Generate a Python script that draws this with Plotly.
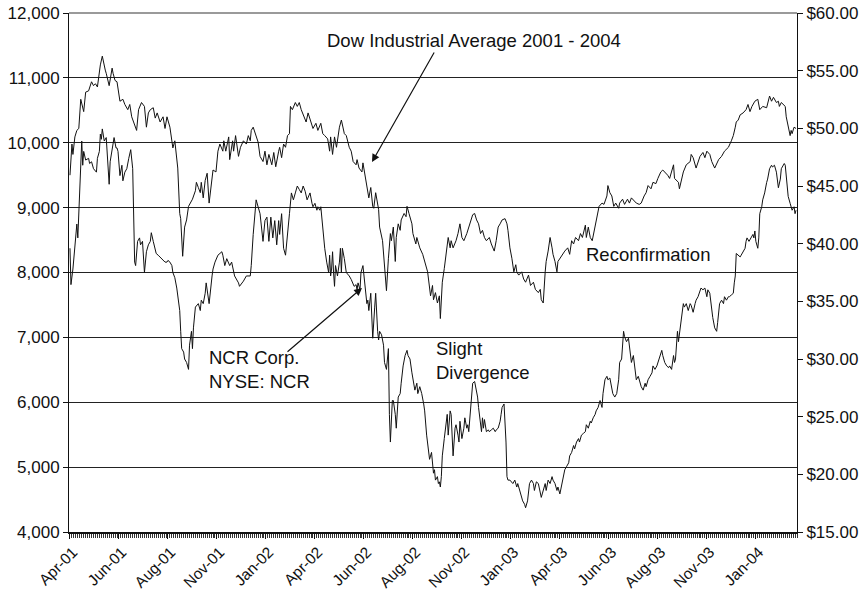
import plotly.graph_objects as go

# Trading-day index (0 = first trading day of April 2001) and x-axis labels
tick_days = [0, 50, 100, 150, 200, 250, 300, 350, 400, 450, 500, 550, 600, 650, 700]
tick_labels = ["Apr-01", "Jun-01", "Aug-01", "Nov-01", "Jan-02", "Apr-02", "Jun-02", "Aug-02",
               "Nov-02", "Jan-03", "Apr-03", "Jun-03", "Aug-03", "Nov-03", "Jan-04"]

# Dow Jones Industrial Average (left axis)
dow_day = [
    0, 2, 3, 5, 7, 9, 11, 14, 16, 19, 22, 24, 26, 28, 31, 33, 36, 37, 40, 43, 44, 46, 48, 51, 54,
    56, 59, 61, 63, 66, 68, 70, 73, 76, 78, 80, 82, 85, 87, 89, 92, 95, 97, 99, 102, 105, 107, 110, 112, 113, 115,
    117, 119, 121, 123, 125, 128, 129, 131, 133, 134, 136, 138, 140, 142, 145, 146, 149, 151, 153, 156,
    157, 159, 162, 163, 166, 167, 169, 172, 174, 177, 180, 182, 184, 185, 187, 190, 192, 194, 197, 199,
    201, 203, 206, 208, 210, 213, 214, 216, 218, 220, 222, 224, 225, 227, 230, 232, 234, 236, 239, 241, 243,
    247, 248, 251, 253, 256, 258, 260, 263, 265, 266, 268, 270, 272, 275, 277, 280, 282, 285, 287, 289,
    292, 293, 295, 298, 299, 301, 303, 305, 307, 309, 310, 312, 315, 316, 319, 321, 323, 325, 327, 328,
    330, 332, 333, 335, 337, 338, 341, 343, 344, 346, 349, 350, 353, 354, 357, 360, 362, 365,
    368, 370, 371, 373, 375, 377, 378, 380, 382, 384, 386, 388, 389, 391, 394, 396, 398, 400, 402, 405,
    407, 410, 411, 413, 415, 417, 419, 421, 423, 425, 428, 430, 433, 435, 437, 439, 441, 444, 446, 447,
    449, 451, 453, 455, 456, 458, 461, 463, 465, 468, 470, 473, 475, 478,
    480, 481, 483, 485, 486, 488, 490, 492, 493, 495, 497, 498, 500, 503, 505, 508, 510, 512, 514, 516,
    519, 521, 523, 526, 527, 529, 531, 533, 536, 538, 540, 543, 545, 548, 549, 551, 553, 555, 557, 560,
    561, 564, 566, 569, 571, 573, 576, 578, 581, 583, 586, 588, 590, 593, 595, 598, 600, 603, 605, 607, 610, 612,
    616, 617, 621, 622, 626, 629, 633, 634, 636, 639, 641, 643, 646, 648, 650, 653, 655, 658, 662, 665,
    668, 672, 675, 677, 679, 680, 682, 684, 687, 690, 692, 694, 696, 699, 702, 704, 707, 711, 714, 716,
    718, 719, 721, 723, 724, 726, 730, 731, 733, 735, 736, 737, 739, 741]
dow_close = [
    9500, 9980, 9820, 10090, 10190, 10220, 10670, 10480, 10780, 10800, 10940, 10880, 10910, 10860, 11200,
    11335, 11120, 11070, 10880, 11150, 11070, 10960, 10940, 10640, 10670, 10590, 10510, 10590, 10400, 10270,
    10190, 10510, 10620, 10560, 10240, 10460, 10510, 10540, 10380, 10460, 10320, 10400, 10220, 10400, 10240,
    9920, 10030, 9610, 8910, 8830, 8250,
    8700, 8810, 9020, 9070, 9130, 9260, 9390, 9310, 9230, 9390, 9150, 9420, 9530, 9070, 9450,
    9580, 9550, 9870, 9980, 9870, 10030, 9870, 10090, 9740, 10030, 9870, 10110, 9790, 9930, 10030,
    9980, 10110, 10030, 10190, 10240, 10090, 10010, 9790, 9710, 9870, 9660, 9820, 9660, 9850, 9630,
    9870, 9930, 9770, 9980, 9930, 10110, 10140, 10560, 10510, 10620, 10560, 10620, 10510, 10400, 10320, 10460,
    10270, 10220, 10300, 10190, 10300, 10140, 10110, 10060, 9870, 10090, 9820, 10090, 9930, 10240, 10350,
    10140, 10110, 9930, 9870, 9710, 9660, 9740, 9610, 9550, 9690, 9500, 9290, 9150, 9310, 9020,
    8990, 9230, 8970, 8700, 8490, 8120, 7720, 8220, 8600, 8490, 8700, 8170, 8540, 8750, 8650,
    8810, 8910, 8860, 9020, 8910, 8750, 8600, 8440, 8540, 8380, 8280, 8170, 8010,
    7640, 7800, 7580, 7690, 7530, 7640, 7290, 7850, 8060, 8280, 8540, 8380, 8490, 8380, 8490,
    8600, 8750, 8540, 8490, 8600, 8700, 8830, 8890, 8910, 8810, 8750, 8600, 8650, 8540, 8490,
    8540, 8440, 8330, 8490, 8700, 8750, 8810, 8830, 8750, 8650, 8380, 8220, 8010, 8120, 8010,
    7960, 8010, 7900, 7850, 7960, 7800, 7850, 7740, 7690,
    7740, 7580, 7530, 8010, 8170, 8330, 8540, 8380, 8280, 8170, 8010, 8170, 8220, 8280, 8330,
    8380, 8280, 8490, 8440, 8540, 8490, 8600, 8540, 8730, 8540, 8700, 8540, 8490, 8700, 8860,
    9020, 9070, 9050, 9180, 9340, 9230, 9180, 9020, 9070, 8990, 9070, 9130, 9050, 9130, 9070,
    9150, 9100, 9070, 9050, 9070, 9180, 9230, 9340, 9290, 9390, 9370, 9450, 9550, 9580, 9550, 9500, 9450,
    9660, 9450, 9390, 9290, 9550, 9660, 9710, 9820, 9770, 9610, 9710, 9790, 9850, 9770, 9870,
    9820, 9710, 9610, 9740, 9790, 9870, 9930, 10030, 10110, 10240, 10320, 10350, 10430, 10460, 10510,
    10590, 10480, 10560, 10640, 10670, 10510, 10560, 10540, 10720, 10640, 10700, 10670, 10620, 10640, 10560,
    10620, 10560, 10400, 10240, 10110, 10190, 10140, 10240, 10220]

# NCR Corp. share price (right axis)
ncr_day = [
    0, 1, 3, 4, 6, 7, 8, 10, 12, 13, 14, 16, 19, 20, 22, 24, 27, 28, 30, 31, 32, 33, 35, 37, 38,
    40, 41, 44, 45, 47, 48, 49, 51, 53, 54, 56, 58, 60, 61, 62, 64, 65, 66, 67, 69, 71, 72, 74, 76, 78,
    80, 82, 83, 85, 87, 88, 90, 92, 94, 95, 97, 99, 100, 102, 104, 105, 107, 109, 111, 112, 113, 114, 116, 117, 119,
    121, 122, 124, 125, 126, 128, 131, 133, 134, 136, 138, 139, 142, 145, 146, 148, 151, 155, 156, 158,
    160, 163, 165, 168, 172, 173, 177, 180, 184, 185, 187, 190, 192, 194, 197, 199, 201, 203, 205, 207,
    209, 211, 213, 214, 216, 218, 220, 222, 224, 226, 228, 230, 232, 234, 236, 238, 240, 242,
    245, 247, 248, 250, 252, 253, 255, 256, 257, 258, 259, 260, 262, 264, 265, 266, 267, 268, 269, 270,
    271, 273, 275, 276, 277, 278, 280, 282, 285, 287, 290, 292, 293, 294, 296, 297, 299, 301, 303, 304,
    305, 307, 308, 309, 311, 312, 314, 315, 316, 318, 320, 321, 323, 325, 326, 327, 329, 330, 332, 333,
    335, 337, 338, 340, 342, 344, 345, 347, 349, 350, 352, 354, 355, 357, 359, 361, 362, 364, 366, 367,
    369, 370, 371, 372, 373, 375, 376, 377, 378, 379, 380, 382, 383, 384, 385, 386, 387, 388, 389, 391,
    393, 394, 396, 397, 398, 400, 402, 403, 405, 406, 407, 409, 410, 411, 413, 415, 416, 417, 419, 420,
    421, 422, 423, 425, 427, 428, 430, 432, 434, 435, 437, 439, 440, 441, 443, 444, 445, 446, 447, 449,
    451, 452, 454, 456, 457, 459, 461, 462, 464, 465, 467, 468, 469, 471, 473, 474, 476, 478,
    481, 482, 484, 485, 486, 488, 490, 492, 493, 495, 497, 498, 500, 502, 503, 505, 507, 509, 510, 512,
    514, 515, 517, 519, 520, 522, 524, 526, 527, 529, 531, 532, 534, 536, 537, 539, 541, 543, 544, 546,
    548, 549, 551, 553, 554, 556, 558, 560, 561, 563, 564, 565, 566, 568, 570, 571, 573, 575, 577, 578,
    580, 582, 583, 585, 587, 588, 590, 592, 594, 595, 597, 599, 600, 602, 604, 605, 607, 609, 611, 612,
    614, 616, 617, 618, 619, 620, 621, 622, 623, 624, 626, 627, 629, 631, 633, 634, 636, 638, 639, 641,
    643, 644, 646, 648, 650, 651, 653, 655, 656, 658, 660, 661, 662, 663, 665, 667, 668, 670, 672, 673,
    675, 677, 678, 679, 680, 682, 684, 685, 687, 689, 690, 691, 693, 695, 697, 698, 699, 700, 702, 703,
    704, 706, 707, 709, 710, 711, 712, 714, 716, 717, 719, 721, 723, 724, 725, 726, 728, 729, 730, 732,
    733, 735, 736, 737, 739, 740, 741]
ncr_close = [
    39.6, 36.45, 37.8, 39.0, 40.5, 41.7, 40.5, 44.4, 48.9, 46.8, 48.0, 47.25, 47.4, 46.95, 47.1, 46.5, 46.2, 47.4, 48.0, 49.5, 49.05, 49.95, 48.9, 49.2, 47.85,
    45.15, 47.1, 48.9, 49.2, 48.3, 48.3, 48.0, 45.9, 46.8, 45.45, 46.2, 46.5, 47.4, 47.7, 48.15, 46.5, 43.2, 38.4, 38.1, 40.2, 40.5, 39.9, 40.2, 37.5, 39.3,
    39.9, 40.2, 40.95, 40.2, 39.6, 39.15, 39.0, 38.85, 38.7, 38.55, 38.4, 38.4, 38.55, 38.4, 38.1, 37.5, 37.05, 36.15, 34.5, 34.2, 32.4, 30.9, 30.6, 30.0, 29.7,
    29.1, 31.2, 32.4, 30.9, 32.7, 34.5, 34.8, 34.2, 35.1, 34.8, 35.7, 36.6, 34.8, 37.2, 37.8, 38.4, 39.0, 39.3, 39.0, 38.1,
    38.7, 38.1, 38.4, 37.2, 36.6, 36.3, 36.75, 37.2, 37.2, 38.1, 40.8, 43.8, 43.2, 42.6, 40.2, 42.0, 42.3, 40.2, 42.3, 40.5,
    42.0, 39.9, 42.0, 40.8, 42.6, 39.6, 39.0, 41.1, 42.6, 44.4, 43.8, 44.4, 45.0, 44.7, 44.4, 45.0, 44.55, 43.8,
    44.4, 43.5, 43.2, 43.5, 42.9, 43.2, 42.9, 43.2, 42.3, 41.4, 40.2, 39.6, 38.4, 37.5, 39.0, 37.2, 37.8, 39.3, 37.5, 36.3,
    38.1, 37.2, 38.4, 39.6, 37.5, 39.6, 38.7, 37.5, 37.2, 36.9, 36.3, 36.45, 36.0, 36.6, 36.0, 37.5, 38.1, 36.6, 34.8, 35.1,
    34.2, 35.7, 33.6, 31.8, 34.5, 35.7, 32.4, 31.65, 32.4, 32.1, 31.2, 29.7, 29.1, 30.9, 25.2, 22.8, 26.4, 26.4, 25.2, 24.0,
    26.7, 27.0, 27.9, 29.4, 30.3, 30.75, 30.3, 30.0, 28.8, 28.2, 27.3, 27.9, 27.0, 27.6, 27.0, 26.1, 25.5, 23.4, 21.6, 21.3,
    21.9, 21.0, 20.1, 20.4, 19.5, 19.8, 19.2, 19.35, 18.9, 19.8, 21.6, 23.1, 24.0, 24.3, 25.2, 23.4, 24.6, 25.5, 25.2, 21.6,
    24.0, 24.3, 23.4, 22.8, 24.6, 23.1, 24.0, 24.9, 24.0, 24.3, 23.7, 26.1, 27.0, 27.9, 28.05, 27.3, 26.7, 25.8, 24.6, 23.7,
    24.9, 24.0, 24.75, 23.7, 23.85, 23.7, 23.85, 24.0, 23.7, 23.85, 24.0, 24.6, 25.2, 25.8, 26.1, 24.6, 22.8, 19.8, 19.5, 19.5,
    19.35, 19.2, 19.5, 18.9, 19.2, 18.6, 18.0, 17.7, 17.4, 17.1, 17.7, 18.3, 19.2, 19.5, 19.2, 18.6, 19.35, 19.2,
    18.0, 18.3, 18.9, 19.2, 18.6, 19.5, 19.2, 19.8, 19.5, 19.2, 18.6, 18.9, 18.3, 19.2, 19.8, 20.4, 20.7, 21.0, 21.6, 21.9,
    22.5, 22.2, 22.8, 23.1, 22.8, 23.4, 23.55, 23.7, 24.3, 24.0, 24.6, 24.45, 24.9, 25.2, 25.5, 25.8, 26.4, 25.8, 27.0, 28.2,
    28.5, 28.2, 28.35, 27.6, 27.0, 26.7, 27.0, 28.2, 29.7, 30.0, 31.2, 32.4, 31.95, 31.5, 31.8, 30.9, 29.7, 30.3, 29.1, 28.2,
    28.5, 27.9, 27.6, 27.3, 27.9, 27.6, 28.2, 28.5, 28.8, 29.4, 29.1, 29.4, 29.7, 30.3, 30.75, 30.3, 29.7, 29.4, 29.25, 29.4,
    29.1, 30.3, 29.7, 30.0, 31.2, 32.4, 31.5, 32.1, 33.0, 33.6, 34.8, 34.5, 34.8, 34.2, 34.8, 34.65, 34.05, 34.8, 35.1, 35.4,
    36.0, 36.15, 36.0, 36.15, 35.4, 36.0, 35.7, 34.2, 33.6, 32.7, 32.4, 33.15, 34.2, 34.8, 35.1, 34.8, 35.4, 35.1, 35.4, 35.4,
    35.55, 35.7, 36.6, 37.2, 39.15, 39.0, 38.85, 39.0, 39.3, 39.6, 40.2, 40.5, 40.2, 40.5, 40.8, 40.5, 41.1, 40.2, 39.6, 40.5,
    42.6, 43.2, 43.8, 44.4, 45.0, 45.3, 45.6, 46.5, 46.8, 46.65, 46.8, 46.2, 44.85, 45.3, 45.6, 46.5, 46.8, 46.95, 46.8, 45.3,
    44.1, 43.5, 43.2, 42.9, 43.2, 42.6, 42.9]

assert len(dow_day) == len(dow_close), (len(dow_day), len(dow_close))
assert len(ncr_day) == len(ncr_close), (len(ncr_day), len(ncr_close))

FONT = "Liberation Sans, Arial, sans-serif"
INK = "#111111"

fig = go.Figure()
fig.add_trace(go.Scatter(x=dow_day, y=dow_close, mode="lines", yaxis="y",
                         line=dict(color=INK, width=1), name="Dow"))
fig.add_trace(go.Scatter(x=ncr_day, y=ncr_close, mode="lines", yaxis="y2",
                         line=dict(color=INK, width=1), name="NCR"))

W, H = 865, 592
L, R, T, B = 69, 797, 13, 532


def px(xs):
    return (xs - L) / (R - L)


def py(ys):
    return (B - ys) / (B - T)


ann_font = dict(family=FONT, size=18.5, color=INK)
annotations = [
    dict(xref="paper", yref="paper", x=px(325), y=py(40), text="Dow Industrial Average 2001 - 2004",
         xanchor="left", yanchor="middle", showarrow=False, font=ann_font),
    dict(xref="paper", yref="paper", x=px(207), y=py(369), text="NCR Corp.<br>NYSE: NCR",
         xanchor="left", yanchor="middle", align="left", showarrow=False, font=ann_font),
    dict(xref="paper", yref="paper", x=px(434), y=py(360), text="Slight<br>Divergence",
         xanchor="left", yanchor="middle", align="left", showarrow=False, font=ann_font),
    dict(xref="paper", yref="paper", x=px(584), y=py(254), text="Reconfirmation",
         xanchor="left", yanchor="middle", showarrow=False, font=ann_font),
    dict(xref="paper", yref="paper", x=px(372), y=py(162), text="", showarrow=True,
         ax=63, ay=-111, arrowhead=2, arrowsize=1.3, arrowwidth=1.2, arrowcolor=INK, standoff=0),
    dict(xref="paper", yref="paper", x=px(362), y=py(288), text="", showarrow=True,
         ax=-76, ay=65, arrowhead=2, arrowsize=1.3, arrowwidth=1.2, arrowcolor=INK, standoff=0),
]

fig.update_layout(
    width=W, height=H,
    margin=dict(l=L, r=W - R, t=T, b=H - B, pad=0, autoexpand=False),
    paper_bgcolor="white", plot_bgcolor="white",
    showlegend=False,
    font=dict(family=FONT, size=17, color=INK),
    annotations=annotations,
    xaxis=dict(range=[-1, 742], tickmode="array", tickvals=tick_days, ticktext=tick_labels,
               tickangle=-45, ticks="outside", ticklen=5, tickcolor=INK, tickwidth=1,
               showline=True, linecolor=INK, linewidth=2, showgrid=False, zeroline=False,
               automargin=False, ticklabelshift=3, ticklabelstandoff=-2,
               tickfont=dict(family=FONT, size=15.5, color=INK),
               minor=dict(ticks="outside", tickmode="linear", tick0=0, dtick=2, ticklen=4,
                          tickcolor="#333333", tickwidth=1, showgrid=False)),
    yaxis=dict(range=[4000, 12000], tickmode="linear", tick0=4000, dtick=1000, tickformat=",d",
               ticks="outside", ticklen=5, tickcolor=INK, showline=True, linecolor=INK, linewidth=1,
               showgrid=True, gridcolor="#222222", gridwidth=1, zeroline=False, automargin=False,
               tickfont=dict(family=FONT, size=17, color=INK)),
    yaxis2=dict(range=[15, 60], overlaying="y", side="right", tickmode="linear", tick0=15, dtick=5,
                tickprefix="$", tickformat=".2f", ticks="outside", ticklen=5, tickcolor=INK,
                showline=True, linecolor=INK, linewidth=1, showgrid=False, zeroline=False,
                automargin=False,
                tickfont=dict(family=FONT, size=17, color=INK)),
    shapes=[dict(type="line", xref="paper", yref="paper", x0=0, x1=1, y0=1, y1=1,
                 line=dict(color="#9a9a9a", width=2), layer="above")],
)

# Remove the browser's default 8 px body margin so the figure sits at the page origin.
fig.write_html("out.html", config={"displayModeBar": False},
               post_script="document.body.style.margin='0px';")
